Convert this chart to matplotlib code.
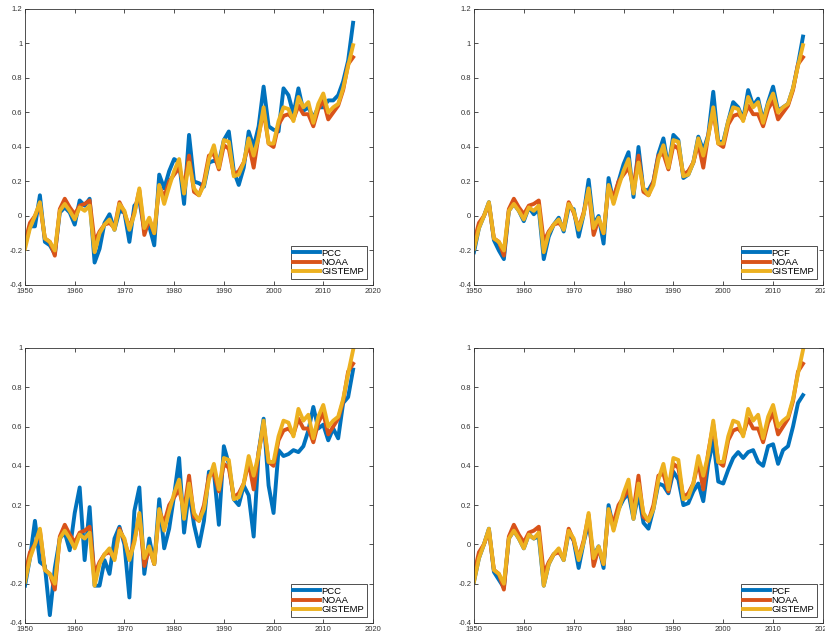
import numpy as np
import matplotlib.pyplot as plt

plt.rcParams['font.family'] = ['Liberation Sans', 'DejaVu Sans']

years = np.arange(1950, 2017)

noaa = [-0.15, -0.04, 0.00, 0.07, -0.13, -0.15, -0.23, 0.04, 0.10, 0.05,
        0.01, 0.06, 0.07, 0.09, -0.15, -0.09, -0.05, -0.04, -0.07, 0.08,
        0.02, -0.07, 0.02, 0.15, -0.11, -0.02, -0.10, 0.17, 0.11, 0.20,
        0.24, 0.28, 0.17, 0.35, 0.14, 0.12, 0.20, 0.35, 0.36, 0.27,
        0.41, 0.39, 0.24, 0.26, 0.31, 0.42, 0.28, 0.47, 0.61, 0.42,
        0.40, 0.53, 0.58, 0.59, 0.56, 0.64, 0.59, 0.59, 0.52, 0.62,
        0.67, 0.56, 0.60, 0.64, 0.73, 0.88, 0.92]

gistemp = [-0.19, -0.07, 0.00, 0.08, -0.13, -0.15, -0.20, 0.03, 0.07, 0.03,
           -0.02, 0.05, 0.03, 0.06, -0.21, -0.10, -0.05, -0.02, -0.08, 0.07,
           0.03, -0.08, 0.01, 0.16, -0.07, -0.01, -0.10, 0.18, 0.07, 0.17,
           0.26, 0.33, 0.13, 0.31, 0.16, 0.12, 0.18, 0.33, 0.41, 0.28,
           0.44, 0.43, 0.23, 0.24, 0.31, 0.45, 0.35, 0.46, 0.63, 0.42,
           0.42, 0.55, 0.63, 0.62, 0.55, 0.69, 0.63, 0.66, 0.54, 0.65,
           0.71, 0.60, 0.63, 0.65, 0.74, 0.87, 0.99]

# top left
pcc_1 = [-0.17, -0.06, -0.06, 0.12, -0.15, -0.17, -0.22, 0.02, 0.05, 0.02,
         -0.05, 0.09, 0.06, 0.10, -0.27, -0.19, -0.04, 0.01, -0.08, 0.03,
         0.02, -0.15, 0.06, 0.09, -0.08, -0.06, -0.17, 0.24, 0.16, 0.26,
         0.33, 0.31, 0.07, 0.47, 0.20, 0.19, 0.17, 0.31, 0.32, 0.31,
         0.44, 0.49, 0.26, 0.18, 0.28, 0.49, 0.40, 0.52, 0.75, 0.52,
         0.50, 0.49, 0.74, 0.70, 0.59, 0.74, 0.61, 0.63, 0.57, 0.63,
         0.63, 0.67, 0.67, 0.70, 0.78, 0.90, 1.12]

# top right
pcf_1 = [-0.21, -0.07, 0.00, 0.08, -0.14, -0.20, -0.25, 0.03, 0.07, 0.03,
         -0.03, 0.05, 0.01, 0.04, -0.25, -0.12, -0.05, -0.01, -0.09, 0.05,
         0.04, -0.12, 0.01, 0.21, -0.05, 0.00, -0.16, 0.22, 0.08, 0.20,
         0.30, 0.37, 0.11, 0.40, 0.15, 0.15, 0.20, 0.36, 0.45, 0.28,
         0.47, 0.44, 0.22, 0.24, 0.31, 0.46, 0.38, 0.47, 0.72, 0.43,
         0.43, 0.55, 0.66, 0.63, 0.56, 0.73, 0.64, 0.68, 0.55, 0.66,
         0.75, 0.61, 0.63, 0.65, 0.74, 0.88, 1.04]

# bottom left
pcc_2 = [-0.21, -0.07, 0.12, -0.09, -0.11, -0.36, -0.12, 0.03, 0.06, -0.03,
         0.16, 0.29, -0.08, 0.19, -0.21, -0.21, -0.08, -0.15, 0.03, 0.09,
         0.00, -0.27, 0.17, 0.29, -0.15, 0.03, -0.10, 0.23, -0.02, 0.08,
         0.25, 0.44, 0.06, 0.27, 0.10, -0.01, 0.12, 0.37, 0.37, 0.10,
         0.50, 0.41, 0.23, 0.20, 0.30, 0.25, 0.04, 0.47, 0.64, 0.30,
         0.16, 0.48, 0.45, 0.46, 0.48, 0.47, 0.50, 0.58, 0.70, 0.59,
         0.61, 0.53, 0.59, 0.54, 0.72, 0.75, 0.89]

# bottom right
pcf_2 = [-0.19, -0.07, 0.00, 0.08, -0.14, -0.18, -0.22, 0.03, 0.07, 0.03,
         -0.02, 0.05, 0.03, 0.04, -0.21, -0.10, -0.05, -0.03, -0.08, 0.06,
         0.02, -0.12, 0.01, 0.11, -0.06, -0.01, -0.12, 0.20, 0.08, 0.18,
         0.23, 0.26, 0.13, 0.26, 0.11, 0.08, 0.18, 0.31, 0.30, 0.26,
         0.37, 0.33, 0.20, 0.21, 0.27, 0.31, 0.22, 0.41, 0.53, 0.32,
         0.31, 0.38, 0.44, 0.47, 0.44, 0.47, 0.48, 0.42, 0.40, 0.50,
         0.51, 0.41, 0.48, 0.50, 0.60, 0.72, 0.76]

panels = [
    (pcc_1, 'PCC', (-0.4, 1.2)),
    (pcf_1, 'PCF', (-0.4, 1.2)),
    (pcc_2, 'PCC', (-0.4, 1.0)),
    (pcf_2, 'PCF', (-0.4, 1.0)),
]

# axes rectangles in figure fraction (left, bottom, width, height)
rects = [
    [0.0303, 0.5526, 0.4218, 0.4333],
    [0.5745, 0.5526, 0.4230, 0.4333],
    [0.0303, 0.0220, 0.4218, 0.4317],
    [0.5745, 0.0220, 0.4230, 0.4317],
]

blue, orange, yellow = '#0072BD', '#D95319', '#EDB120'

fig = plt.figure(figsize=(8.25, 6.37), dpi=100)

for (pc, name, ylim), rect in zip(panels, rects):
    ax = fig.add_axes(rect)
    ax.plot(years, pc, color=blue, lw=2.8, label=name)
    ax.plot(years, noaa, color=orange, lw=2.8, label='NOAA')
    ax.plot(years, gistemp, color=yellow, lw=2.8, label='GISTEMP')
    ax.set_xlim(1950, 2020)
    ax.set_ylim(*ylim)
    ax.set_xticks(np.arange(1950, 2021, 10))
    yt = np.round(np.arange(ylim[0], ylim[1] + 0.01, 0.2), 1)
    ax.set_yticks(yt)
    ax.set_yticklabels(['%g' % v for v in yt])
    ax.tick_params(direction='in', top=True, right=True, length=3,
                   width=0.6, labelsize=5.5, colors='#333333', pad=2)
    for sp in ax.spines.values():
        sp.set_color('#333333')
        sp.set_linewidth(0.6)
    leg = ax.legend(loc='lower right', fontsize=6.8, handlelength=2.8,
                    handletextpad=0.2, borderpad=0.3, labelspacing=0.05,
                    fancybox=False, framealpha=1, borderaxespad=0.6)
    leg.get_frame().set_edgecolor('#333333')
    leg.get_frame().set_linewidth(0.6)

plt.savefig('out.png', dpi=100)
